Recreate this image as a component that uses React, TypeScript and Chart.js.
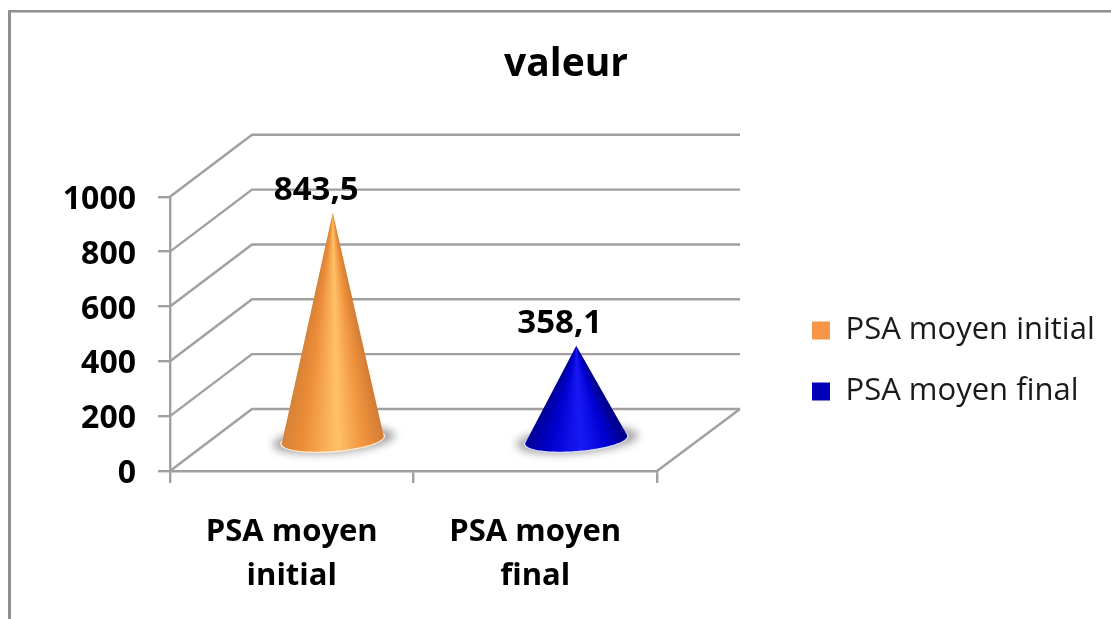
import React, { useEffect, useRef } from "react";
import { Chart, registerables } from "chart.js";

Chart.register(...registerables);

const TITLE = "valeur";
const CATEGORIES = ["PSA moyen initial", "PSA moyen final"];
const CATEGORY_LINES = [["PSA moyen", "initial"], ["PSA moyen", "final"]];
const VALUES = [843.5, 358.1];
const VALUE_LABELS = ["843,5", "358,1"];
const LEGEND_COLORS = ["#f79646", "#0000bb"];
const SHADES: [number, number[]][][] = [
  [[0, [214, 130, 55]], [0.2, [236, 140, 55]], [0.55, [255, 193, 103]], [0.8, [240, 148, 62]], [1, [212, 125, 52]]],
  [[0, [0, 0, 150]], [0.25, [0, 0, 208]], [0.55, [25, 25, 245]], [0.8, [0, 0, 212]], [1, [0, 0, 140]]],
];
const RIMS = ["#ffe8cf", "#d5dcff"];

const GRID = "#a0a0a0";
const FONT = "'Open Sans', sans-serif";
const DEPTH_X = 82;
const DEPTH_Y = 62;

function shade(stops: [number, number[]][], f: number) {
  for (let i = 1; i < stops.length; i++) {
    if (f <= stops[i][0]) {
      const [a, ca] = stops[i - 1];
      const [b, cb] = stops[i];
      const k = (f - a) / (b - a);
      const c = ca.map((v, j) => Math.round(v + (cb[j] - v) * k));
      return `rgb(${c[0]},${c[1]},${c[2]})`;
    }
  }
  const c = stops[stops.length - 1][1];
  return `rgb(${c[0]},${c[1]},${c[2]})`;
}

const scenePlugin = {
  id: "scene",
  afterLayout(chart: any) {
    const t = chart.titleBlock;
    t.left = 10; t.right = 1122; t.top = 41; t.bottom = 87;
    const l = chart.legend;
    l.left = 782; l.right = 1111; l.top = 285; l.bottom = 440;
  },
  beforeDraw(chart: any) {
    const c = chart.ctx;
    c.save();
    c.fillStyle = "#ffffff";
    c.fillRect(0, 0, chart.width, chart.height);
    c.fillStyle = "#8f8f8f";
    c.fillRect(8, 10, chart.width - 8, 2.5);
    c.fillRect(8, 10, 3, chart.height - 10);
    c.restore();
  },
  beforeDatasetsDraw(chart: any) {
    const c = chart.ctx;
    const { left, right } = chart.chartArea;
    const y = chart.scales.y;
    c.save();
    c.strokeStyle = GRID;
    c.lineWidth = 2.4;
    y.ticks.forEach((tick: any) => {
      const py = y.getPixelForValue(tick.value);
      c.beginPath();
      c.moveTo(left, py);
      c.lineTo(left + DEPTH_X, py - DEPTH_Y);
      c.lineTo(right + DEPTH_X + 1, py - DEPTH_Y);
      c.stroke();
    });
    const y0 = y.getPixelForValue(0);
    c.beginPath();
    c.moveTo(right + DEPTH_X + 1, y0 - DEPTH_Y);
    c.lineTo(right, y0);
    c.stroke();
    c.restore();
  },
  beforeDatasetDraw(chart: any, args: any) {
    const c = chart.ctx;
    const y = chart.scales.y;
    const y0 = y.getPixelForValue(0);
    args.meta.data.forEach((bar: any, i: number) => {
      const cx = bar.x + DEPTH_X / 2;
      const cy = y0 - 31;
      const rx = bar.width / 2;
      const ry = 11;
      const rot = (-4.5 * Math.PI) / 180;
      const apexX = cx;
      const apexY = bar.y - 27;
      const pt = (t: number) => [
        cx + rx * Math.cos(t) * Math.cos(rot) - ry * Math.sin(t) * Math.sin(rot),
        cy + rx * Math.cos(t) * Math.sin(rot) + ry * Math.sin(t) * Math.cos(rot),
      ];
      c.save();
      c.filter = "blur(4px)";
      c.fillStyle = "rgba(110,110,115,0.65)";
      c.beginPath();
      c.ellipse(cx + 1, cy, rx + 10, ry + 2, rot, 0, Math.PI * 2);
      c.fill();
      c.restore();

      c.save();
      c.fillStyle = RIMS[i];
      c.beginPath();
      c.ellipse(cx, cy, rx + 1.5, ry + 1.5, rot, 0, Math.PI * 2);
      c.fill();

      // Shading follows the cone's surface: a conic gradient centred on the apex.
      const grad = c.createConicGradient(0, apexX, apexY);
      const dy = cy + ry * 0.5 - apexY;
      for (let k = 0; k <= 20; k++) {
        const f = k / 20;
        const x = -rx + 2 * rx * f;
        const ang = Math.atan2(dy, x) / (2 * Math.PI);
        grad.addColorStop(ang, shade(SHADES[i], f));
      }
      c.fillStyle = grad;
      c.beginPath();
      c.moveTo(apexX, apexY);
      const N = 80;
      for (let k = 0; k <= N; k++) {
        const p = pt(-0.08 + ((Math.PI + 0.16) * k) / N);
        c.lineTo(p[0], p[1]);
      }
      c.closePath();
      c.fill();
      c.restore();
    });
    return false;
  },
  afterDatasetsDraw(chart: any) {
    const c = chart.ctx;
    const meta = chart.getDatasetMeta(0);
    c.save();
    c.fillStyle = "#000000";
    c.font = `700 33px ${FONT}`;
    c.textAlign = "center";
    c.textBaseline = "alphabetic";
    meta.data.forEach((bar: any, i: number) => {
      c.fillText(VALUE_LABELS[i], bar.x + 24.5, bar.y - 40);
    });
    c.restore();
  },
};

export default function App() {
  const ref = useRef<HTMLCanvasElement>(null);
  useEffect(() => {
    const chart = new Chart(ref.current as HTMLCanvasElement, {
      type: "bar",
      data: {
        labels: CATEGORIES,
        datasets: [
          {
            label: TITLE,
            data: VALUES,
            backgroundColor: LEGEND_COLORS,
            categoryPercentage: 0.42,
            barPercentage: 1,
          },
        ],
      },
      options: {
        animation: false,
        responsive: false,
        layout: { padding: { left: 0, right: 454, top: 150, bottom: 0 } },
        plugins: {
          tooltip: { enabled: false },
          title: {
            display: true,
            text: TITLE,
            color: "#000000",
            font: { family: FONT, size: 39, weight: "700", lineHeight: 1.2 },
            padding: 0,
          },
          legend: {
            display: true,
            position: "chartArea" as any,
            align: "start",
            labels: {
              color: "#1a1a1a",
              boxWidth: 18,
              boxHeight: 18,
              padding: 30,
              font: { family: FONT, size: 31 },
              generateLabels: () =>
                CATEGORIES.map((text, i) => ({
                  text,
                  fillStyle: LEGEND_COLORS[i],
                  strokeStyle: LEGEND_COLORS[i],
                  lineWidth: 0,
                  fontColor: "#1a1a1a",
                  hidden: false,
                  index: i,
                })),
            },
          },
        },
        scales: {
          x: {
            afterFit: (s: any) => { s.height = 148; },
            grid: { drawOnChartArea: false, color: GRID, tickLength: 12, lineWidth: 2.4 },
            border: { color: GRID, width: 2.4 },
            ticks: {
              color: "#000000",
              padding: 27,
              maxRotation: 0,
              font: { family: FONT, size: 31, weight: "700", lineHeight: 1.42 },
              callback: (_v: any, i: number) => CATEGORY_LINES[i],
            },
          },
          y: {
            min: 0,
            max: 1000,
            afterFit: (s: any) => { s.width = 170; },
            grid: { drawOnChartArea: false, color: GRID, tickLength: 12, lineWidth: 2.4 },
            border: { color: GRID, width: 2.4 },
            ticks: {
              stepSize: 200,
              color: "#000000",
              padding: 22,
              labelOffset: 3,
              font: { family: FONT, size: 32, weight: "700" },
              callback: (v: any) => String(v),
            },
          },
        },
      },
      plugins: [scenePlugin],
    } as any);
    return () => chart.destroy();
  }, []);
  return (
    <div style={{ position: "absolute", left: 0, top: 0, width: 1111, height: 619, overflow: "hidden" }}>
      <canvas ref={ref} width={1111} height={619} style={{ display: "block", filter: "blur(0.5px)" }} />
    </div>
  );
}
